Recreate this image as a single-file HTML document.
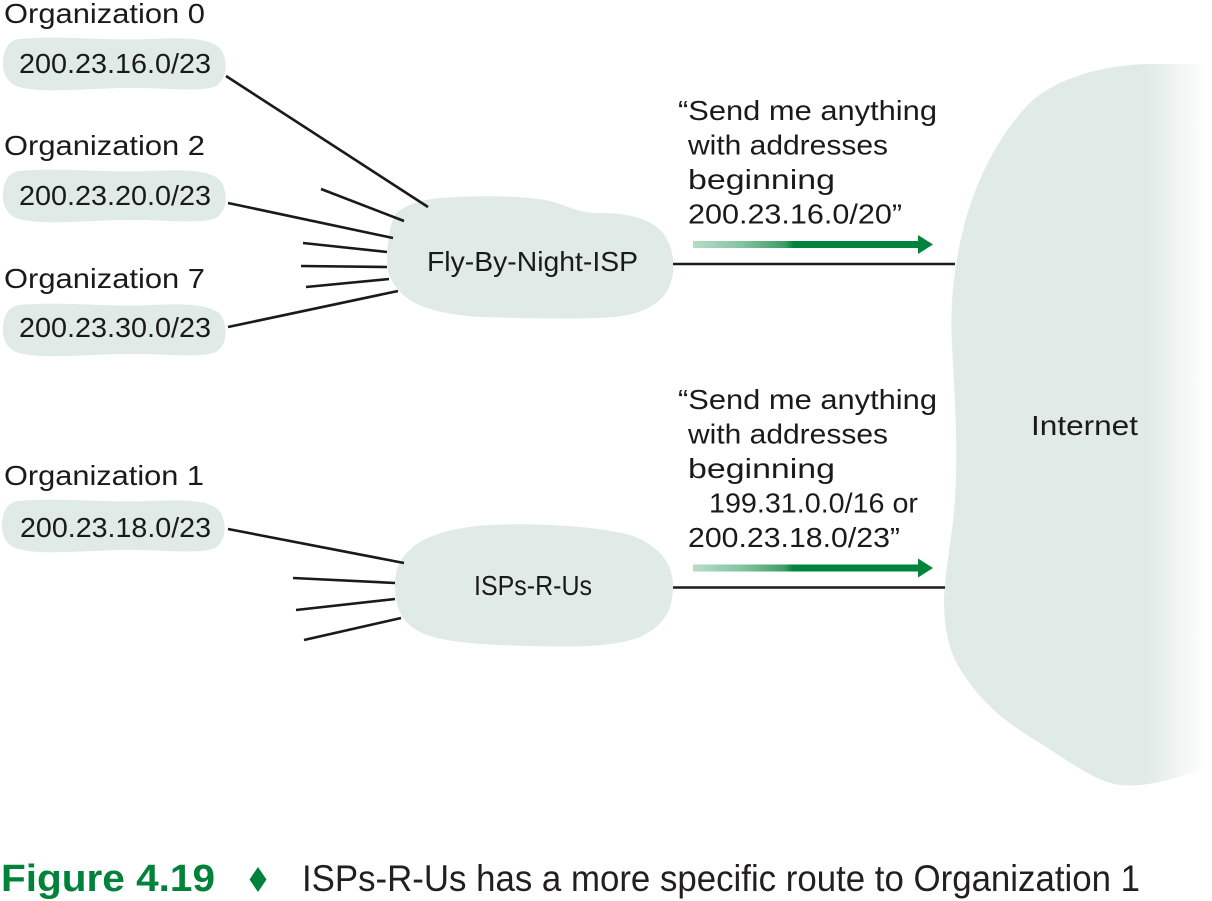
<!DOCTYPE html>
<html>
<head>
<meta charset="utf-8">
<style>
  html, body { margin:0; padding:0; background:#ffffff; }
  body { width:1212px; height:901px; overflow:hidden; }
  svg { display:block; }
  text { font-family: "Liberation Sans", "DejaVu Sans", sans-serif; fill:#1a1a1a; }
</style>
</head>
<body>
<svg width="1212" height="901" viewBox="0 0 1212 901" xmlns="http://www.w3.org/2000/svg">
  <defs>
    <linearGradient id="inetFade" gradientUnits="userSpaceOnUse" x1="1145" y1="0" x2="1208" y2="0">
      <stop offset="0" stop-color="#e0eae6"/>
      <stop offset="1" stop-color="#ffffff"/>
    </linearGradient>
    <linearGradient id="arrowGrad" gradientUnits="userSpaceOnUse" x1="693" y1="0" x2="933" y2="0">
      <stop offset="0" stop-color="#b5ddc8"/>
      <stop offset="0.2" stop-color="#86c4a2"/>
      <stop offset="0.38" stop-color="#3f9d68"/>
      <stop offset="0.42" stop-color="#00833d"/>
      <stop offset="1" stop-color="#00833d"/>
    </linearGradient>
    <path id="bubble" d="M 18,3 C 60,-1 100,5 150,3 C 190,1 214,3 221,15 C 227,27 226,43 215,50 C 200,57 160,51 120,52 C 80,53 40,57 18,51 C 4,47 1,33 2,25 C 3,13 7,5 18,3 Z"/>
  </defs>

  <!-- Internet blob -->
  <path d="M 1212,64 L 1150,64 C 1100,65 1050,80 1025,108 C 1000,135 975,180 963,230 C 953,270 950,310 952,345 C 955,400 958,450 955,500 C 952,540 945,570 944,600 C 944,630 950,655 962,672 C 980,700 1000,718 1030,737 C 1060,755 1085,775 1110,783 C 1135,790 1170,782 1212,765 Z" fill="url(#inetFade)"/>

  <!-- Org bubbles -->
  <use href="#bubble" transform="translate(1,36)" fill="#e0eae6"/>
  <use href="#bubble" transform="translate(1,168)" fill="#e0eae6"/>
  <use href="#bubble" transform="translate(1,302)" fill="#e0eae6"/>
  <use href="#bubble" transform="translate(0,498)" fill="#e0eae6"/>

  <!-- Fly-By-Night cloud -->
  <path d="M 397,212 C 410,204 420,200 440,198 C 480,195 520,196 545,200 C 565,204 575,212 595,213 C 620,213 645,215 660,230 C 675,245 676,270 670,285 C 662,305 640,315 613,317 C 580,320 520,318 480,317 C 450,315 425,310 410,300 C 395,290 386,275 387,258 C 388,238 390,222 397,212 Z" fill="#e0eae6"/>

  <!-- ISPs-R-Us cloud -->
  <path d="M 410,550 C 420,538 450,527 490,525 C 530,523 590,525 630,535 C 660,545 673,565 673,585 C 673,610 665,625 640,637 C 610,648 570,647 530,646 C 480,645 440,642 420,632 C 400,622 395,605 395,585 C 395,570 400,558 410,550 Z" fill="#e0eae6"/>

  <!-- Connector lines -->
  <g stroke="#1a1a1a" stroke-width="2.6" fill="none" stroke-linecap="butt">
    <line x1="226" y1="76" x2="428" y2="207"/>
    <line x1="321" y1="189" x2="404" y2="221"/>
    <line x1="228" y1="203" x2="393" y2="238"/>
    <line x1="303" y1="243" x2="387" y2="252"/>
    <line x1="301" y1="266" x2="387" y2="267"/>
    <line x1="306" y1="287" x2="389" y2="279"/>
    <line x1="228" y1="327" x2="398" y2="291"/>

    <line x1="228" y1="529" x2="404" y2="563"/>
    <line x1="293" y1="578" x2="395" y2="583"/>
    <line x1="296" y1="610" x2="395" y2="599"/>
    <line x1="304" y1="640" x2="401" y2="618"/>

    <line x1="673" y1="264" x2="955" y2="264"/>
    <line x1="673" y1="587.5" x2="945" y2="587.5"/>
  </g>

  <!-- Green arrows -->
  <rect x="693" y="241" width="226" height="7" fill="url(#arrowGrad)"/>
  <polygon points="918,235 933,244.5 918,254" fill="#00833d"/>
  <rect x="693" y="564.5" width="226" height="7" fill="url(#arrowGrad)"/>
  <polygon points="918,558.5 933,568 918,577.5" fill="#00833d"/>

  <!-- Org labels -->
  <g font-size="28">
    <text x="4" y="23" textLength="201" lengthAdjust="spacingAndGlyphs">Organization 0</text>
    <text x="19" y="73" textLength="192" lengthAdjust="spacingAndGlyphs">200.23.16.0/23</text>
    <text x="4" y="155" textLength="201" lengthAdjust="spacingAndGlyphs">Organization 2</text>
    <text x="19" y="205" textLength="192" lengthAdjust="spacingAndGlyphs">200.23.20.0/23</text>
    <text x="4" y="288" textLength="201" lengthAdjust="spacingAndGlyphs">Organization 7</text>
    <text x="19" y="337" textLength="192" lengthAdjust="spacingAndGlyphs">200.23.30.0/23</text>
    <text x="4" y="485" textLength="200" lengthAdjust="spacingAndGlyphs">Organization 1</text>
    <text x="20" y="537" textLength="191" lengthAdjust="spacingAndGlyphs">200.23.18.0/23</text>

    <text x="427" y="271" textLength="211" lengthAdjust="spacingAndGlyphs">Fly-By-Night-ISP</text>
    <text x="474" y="595" textLength="118" lengthAdjust="spacingAndGlyphs">ISPs-R-Us</text>
    <text x="1031" y="435" textLength="107" lengthAdjust="spacingAndGlyphs">Internet</text>

    <!-- Block 1 -->
    <text x="678" y="120" textLength="259" lengthAdjust="spacingAndGlyphs">“Send me anything</text>
    <text x="688" y="154.5" textLength="200" lengthAdjust="spacingAndGlyphs">with addresses</text>
    <text x="688" y="189" textLength="147" lengthAdjust="spacingAndGlyphs">beginning</text>
    <text x="688" y="223.5" textLength="214" lengthAdjust="spacingAndGlyphs">200.23.16.0/20”</text>

    <!-- Block 2 -->
    <text x="678" y="409" textLength="259" lengthAdjust="spacingAndGlyphs">“Send me anything</text>
    <text x="688" y="443.5" textLength="200" lengthAdjust="spacingAndGlyphs">with addresses</text>
    <text x="688" y="478" textLength="147" lengthAdjust="spacingAndGlyphs">beginning</text>
    <text x="709" y="512.5" textLength="209" lengthAdjust="spacingAndGlyphs">199.31.0.0/16 or</text>
    <text x="688" y="547" textLength="212" lengthAdjust="spacingAndGlyphs">200.23.18.0/23”</text>
  </g>

  <!-- Caption -->
  <text x="1" y="891" font-size="38" font-weight="bold" style="fill:#00823a" textLength="214" lengthAdjust="spacingAndGlyphs">Figure 4.19</text>
  <polygon points="258,867 266.5,879.5 258,892 249.5,879.5" fill="#00823a"/>
  <text x="302" y="891" font-size="37" style="fill:#231f20" textLength="838" lengthAdjust="spacingAndGlyphs">ISPs-R-Us has a more specific route to Organization 1</text>
</svg>
</body>
</html>
